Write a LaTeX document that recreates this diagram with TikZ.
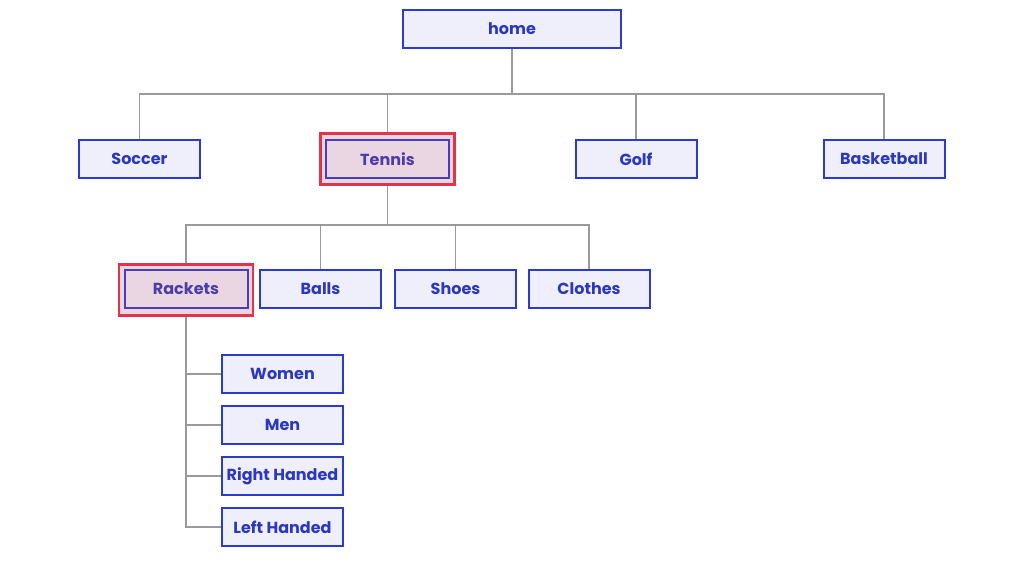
\documentclass[tikz,border=0pt]{standalone}
\usepackage{fontspec}
\setmainfont{Poppins}
\definecolor{boxfill}{HTML}{EEEFFA}
\definecolor{boxline}{HTML}{2B3BCC}
\definecolor{boxtext}{HTML}{2B38BE}
\definecolor{hifill}{HTML}{E9D6E2}
\definecolor{hiline}{HTML}{4A3DB5}
\definecolor{hitext}{HTML}{4D3CA8}
\definecolor{redline}{HTML}{E0344A}
\definecolor{conn}{HTML}{9A9A9A}
\tikzset{
  x=1pt, y=-1pt,
  catbox/.style={draw=boxline, line width=2pt, fill=boxfill, text=boxtext,
    minimum width=121pt, minimum height=38pt, inner sep=0pt,
    font=\fontsize{16}{18}\selectfont\bfseries},
  hibox/.style={catbox, draw=hiline, fill=hifill, text=hitext,
    minimum width=123pt},
  redframe/.style={draw=redline, line width=2.6pt, fill=hifill,
    minimum width=134pt, minimum height=51pt, inner sep=0pt},
  link/.style={draw=conn, line width=1.3pt}
}
\begin{document}
\begin{tikzpicture}
\useasboundingbox (0,0) rectangle (1024,563);
% red frames
\node[redframe] (tennisframe) at (387.5,159) {};
\node[redframe] (racketsframe) at (186,290) {};
% nodes
\node[catbox, minimum width=218pt] (home) at (512,29) {home};
\node[catbox] (soccer) at (139.5,159) {Soccer};
\node[hibox] (tennis) at (387.5,159) {Tennis};
\node[catbox] (golf) at (636,159) {Golf};
\node[catbox] (basketball) at (884,159) {Basketball};
\node[hibox] (rackets) at (186,289) {Rackets};
\node[catbox] (balls) at (320.5,289) {Balls};
\node[catbox] (shoes) at (455.5,289) {Shoes};
\node[catbox] (clothes) at (589,289) {Clothes};
\node[catbox] (women) at (282.5,374) {Women};
\node[catbox] (men) at (282.5,425) {Men};
\node[catbox] (right) at (282.5,476) {Right Handed};
\node[catbox] (left) at (282.5,527) {Left Handed};
% connectors level 1
\coordinate (h1) at (512,94);
\draw[link] (home.south) -- (h1);
\draw[link] (h1) -| (soccer.north);
\draw[link] (h1) -| (basketball.north);
\draw[link] (h1) -| (golf.north);
\draw[link] (h1) -| (tennisframe.north);
% connectors level 2
\coordinate (t1) at (387.5,225);
\draw[link] (tennisframe.south) -- (t1);
\draw[link] (t1) -| (racketsframe.north);
\draw[link] (t1) -| (balls.north);
\draw[link] (t1) -| (shoes.north);
\draw[link] (t1) -| (clothes.north);
% connectors level 3
\coordinate (r1) at (186,527);
\draw[link] (racketsframe.south) -- (r1) -- (left.west);
\draw[link] (186,374) -- (women.west);
\draw[link] (186,425) -- (men.west);
\draw[link] (186,476) -- (right.west);
\end{tikzpicture}
\end{document}
